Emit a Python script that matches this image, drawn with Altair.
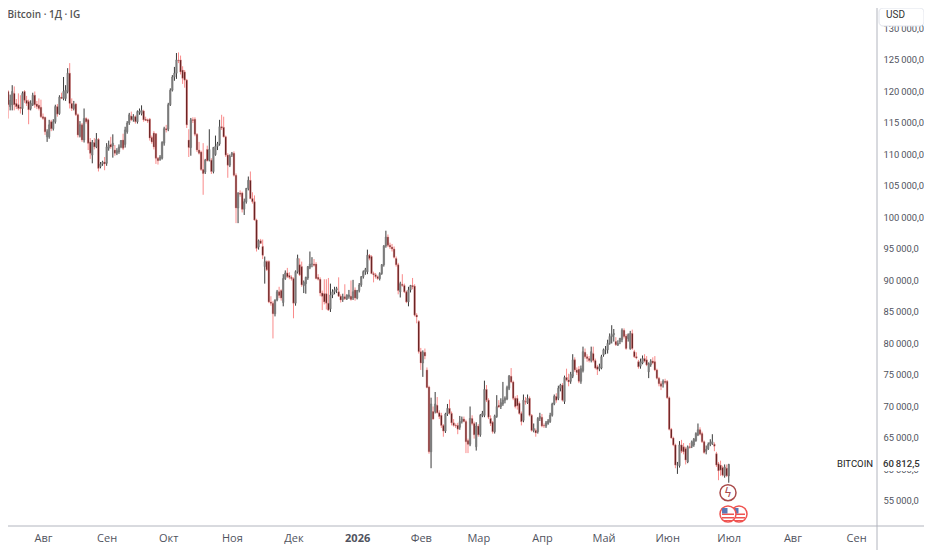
import altair as alt
import pandas as pd

# Candles: (open, high, low, close), thousands of USD, one list per calendar month
jul_2025 = [(116.0,119.0,115.0,118.6),(117.9,118.5,116.8,117.4),(117.4,120.0,117.0,119.4),(117.9,123.1,117.5,120.0),(120.0,120.2,115.7,117.9),(117.6,119.5,117.0,118.6),(117.9,121.0,117.0,120.0),(119.7,120.8,117.0,117.9),(118.1,118.8,117.2,117.6),(117.9,119.7,117.0,117.3),(117.5,119.4,116.5,117.3),(117.3,120.0,116.3,119.7),(120.0,120.2,118.2,118.6),(118.6,119.3,117.7,118.1),(118.4,118.7,114.8,117.1),(117.3,118.6,117.0,118.1),(117.9,119.8,117.7,119.4),(119.4,120.0,117.4,117.9),(118.0,118.5,117.2,117.6),(117.8,118.9,117.0,117.3),(117.5,118.7,115.8,116.0)]
aug_2025 = [(116.0,116.5,115.5,115.7),(115.9,116.0,113.1,113.6),(112.8,114.0,112.0,113.6),(112.8,115.5,112.5,114.7),(115.2,115.5,113.7,114.1),(114.1,115.6,113.8,115.2),(115.2,117.9,114.9,117.6),(117.6,118.0,116.0,116.4),(116.5,119.4,116.3,119.1),(119.1,119.8,118.8,118.9),(118.9,122.3,118.6,120.0),(118.9,121.0,118.5,120.2),(120.0,123.7,119.7,122.9),(122.9,124.5,117.3,118.1),(118.1,118.9,116.9,117.3),(117.3,118.5,117.0,117.9),(118.0,118.2,116.1,116.3),(116.3,116.5,112.7,113.1),(112.9,115.3,112.7,114.7),(114.7,115.0,112.0,112.3),(112.3,117.3,111.9,115.7),(115.7,115.9,114.9,115.2),(115.5,115.7,110.7,111.8),(112.0,112.6,109.3,110.2),(109.9,112.3,108.6,111.9),(111.9,112.6,110.8,111.2),(111.2,113.4,111.0,112.4),(112.4,112.6,107.3,107.8),(108.1,108.8,107.8,108.5),(108.5,109.0,108.2,108.8),(108.8,109.6,107.5,108.5)]
sep_2025 = [(108.6,111.8,108.2,111.2),(111.0,112.2,110.6,111.5),(111.6,112.8,110.9,111.2),(111.4,113.2,109.5,111.8),(110.7,111.5,109.8,110.2),(110.2,111.0,109.9,110.6),(110.4,111.6,110.1,111.2),(111.2,112.3,111.0,112.2),(112.3,113.3,110.7,111.0),(111.6,114.4,111.1,113.9),(113.6,115.3,113.3,115.0),(115.0,116.6,114.7,116.3),(116.1,116.8,115.3,115.5),(115.5,116.4,115.2,116.0),(116.0,116.2,114.9,115.2),(115.2,117.0,114.9,116.8),(116.7,117.3,116.3,116.9),(116.5,117.8,116.2,117.0),(116.9,117.1,115.2,115.5),(115.6,116.0,115.3,115.4),(115.5,115.7,115.0,115.3),(115.6,115.8,112.2,112.6),(112.7,113.0,111.7,112.0),(113.4,113.7,110.8,111.2),(113.3,113.4,108.5,109.4),(109.4,109.6,108.4,109.0),(109.2,109.9,109.0,109.6),(109.4,112.1,109.2,111.9),(111.8,114.4,111.4,114.1),(114.1,114.7,113.5,113.9)]
oct_2025 = [(114.0,118.2,113.7,117.9),(117.9,120.5,117.7,120.2),(120.2,122.6,120.0,122.3),(122.3,123.9,121.7,122.9),(122.9,126.1,122.0,125.0),(125.0,126.2,124.5,124.9),(125.0,125.7,122.7,123.1),(123.4,124.0,121.2,122.1),(123.1,123.4,120.6,121.8),(121.8,122.0,114.2,114.7),(112.3,114.0,109.6,111.1),(111.1,115.8,109.8,115.5),(115.5,115.9,115.0,115.4),(115.6,115.9,112.9,113.2),(113.2,113.4,110.4,110.7),(110.7,112.0,110.0,110.2),(110.4,110.6,107.4,107.6),(107.6,111.8,103.6,107.0),(107.2,109.3,106.9,109.1),(110.8,111.4,108.9,109.0),(109.1,114.0,108.9,110.8),(109.1,109.4,106.9,107.3),(107.3,111.2,107.0,111.1),(110.0,113.0,109.8,111.3),(111.3,112.0,110.7,111.7),(111.7,115.5,111.4,114.4),(114.4,116.3,113.9,114.2),(114.3,116.0,112.7,112.8),(112.8,113.0,109.6,109.9),(109.9,110.2,106.3,108.3),(108.3,110.0,108.0,109.7)]
nov_2025 = [(109.9,110.4,109.6,110.2),(110.2,110.5,106.5,106.7),(106.7,107.0,99.1,101.5),(101.5,104.0,99.1,103.9),(103.9,104.3,103.3,103.7),(103.9,104.1,100.8,101.3),(101.3,103.0,100.4,102.5),(102.5,104.7,102.2,104.6),(104.6,106.5,104.3,105.9),(105.9,107.3,102.9,103.0),(103.0,104.0,102.2,102.5),(102.5,103.5,99.5,99.6),(99.6,99.8,94.6,95.1),(95.3,96.5,94.9,96.3),(96.3,96.6,95.8,95.9),(95.4,96.5,93.4,94.0),(92.2,93.8,89.5,93.0),(93.0,93.2,91.5,91.7),(93.0,93.2,86.4,86.6),(86.6,87.5,86.0,86.4),(86.4,86.7,80.8,84.7),(84.7,87.0,84.3,86.9),(86.9,88.5,86.7,88.2),(88.2,89.0,87.2,87.6),(88.4,88.6,86.8,87.2),(86.5,91.0,85.9,90.3),(90.3,91.6,90.1,91.2),(91.2,92.0,90.4,90.6),(90.8,91.3,90.2,90.5),(90.5,90.8,90.0,90.3)]
dec_2025 = [(90.3,90.5,84.0,86.4),(86.4,91.6,86.0,91.4),(91.4,94.1,91.1,93.5),(92.5,93.5,90.7,90.9),(92.2,93.0,89.0,89.3),(89.2,90.0,88.0,89.7),(89.5,90.6,87.9,90.5),(90.4,92.3,90.1,92.2),(92.1,94.6,91.8,92.6),(92.6,93.7,92.1,92.6),(92.6,93.4,92.2,92.4),(92.6,92.9,90.2,90.3),(90.5,91.0,90.0,90.2),(90.2,90.5,87.5,88.0),(88.0,88.4,85.3,87.5),(87.9,90.2,86.2,86.6),(87.9,90.2,85.4,86.4),(86.4,90.4,85.2,85.3),(85.5,89.5,85.0,87.7),(87.7,88.6,87.2,88.2),(88.2,89.0,87.8,88.5),(88.5,89.0,88.0,88.7),(88.2,90.5,87.4,87.5),(87.5,87.8,86.5,86.9),(87.0,87.9,86.6,87.4),(87.4,89.4,86.9,87.1),(87.1,87.8,86.9,87.7),(87.4,88.5,87.1,87.7),(87.5,90.0,86.8,87.0),(87.2,90.1,86.9,88.2),(88.5,88.9,86.8,87.2)]
jan_2026 = [(87.2,88.5,87.0,88.4),(88.4,89.6,88.1,89.3),(89.3,90.7,89.0,90.6),(90.6,91.6,90.3,91.4),(91.4,92.0,90.9,91.7),(91.4,94.9,91.0,94.0),(94.0,94.2,93.2,93.5),(93.8,94.0,91.0,91.1),(91.1,91.4,89.7,90.9),(90.9,91.2,90.3,90.6),(90.6,90.8,90.1,90.3),(90.3,91.3,90.0,91.1),(91.1,92.6,90.9,92.5),(92.5,95.6,92.2,95.5),(95.5,97.9,95.2,96.9),(96.9,97.3,95.3,95.6),(95.6,96.0,95.0,95.3),(95.3,95.8,94.6,95.0),(95.0,95.4,93.5,93.7),(93.5,93.8,92.2,92.5),(92.5,92.8,87.8,88.4),(88.2,89.8,87.3,89.5),(89.4,91.0,89.0,89.2),(89.2,89.5,88.0,88.2),(88.2,88.4,86.4,86.6),(86.6,89.0,85.9,88.5),(88.5,89.3,88.1,89.2),(89.2,90.4,88.6,89.0),(89.1,89.4,84.3,84.5),(84.5,84.8,83.2,84.2),(83.5,83.7,78.4,78.7)]
feb_2026 = [(78.7,79.3,75.8,76.9),(76.9,78.9,74.7,78.6),(78.6,79.2,77.5,78.0),(75.8,76.2,72.9,73.0),(73.1,73.3,62.5,62.8),(62.8,71.4,60.2,70.4),(69.2,70.0,67.9,68.0),(69.2,72.3,68.9,70.4),(70.2,71.5,68.9,69.0),(69.0,69.4,68.0,68.4),(68.6,69.0,66.6,67.0),(67.0,67.2,65.2,66.1),(66.1,69.0,65.8,68.8),(68.8,70.4,68.5,69.7),(69.7,71.1,68.7,68.9),(68.9,69.2,67.0,67.4),(67.4,68.0,66.8,67.0),(67.0,67.3,66.6,66.9),(67.0,67.4,65.6,66.4),(66.7,68.5,66.3,67.6),(67.6,68.4,67.3,68.0),(68.0,68.4,67.5,67.6),(67.6,67.9,62.6,64.4),(64.6,64.9,62.6,64.0),(64.0,70.0,63.7,68.1),(68.1,68.6,67.0,67.3),(67.3,67.6,64.9,65.5),(63.6,67.5,63.0,66.9)]
mar_2026 = [(66.9,67.2,65.2,65.5),(65.5,68.8,65.2,68.6),(68.6,69.3,68.3,68.9),(68.6,74.1,68.3,72.7),(72.7,73.4,70.7,71.0),(71.0,71.3,68.0,68.3),(68.1,68.6,66.9,67.3),(67.5,67.7,65.7,66.0),(66.0,68.7,65.7,68.5),(68.4,71.8,68.2,70.0),(70.2,71.0,69.8,69.9),(70.0,71.3,69.6,70.6),(70.4,73.9,70.1,71.0),(71.0,71.6,70.5,71.3),(71.2,73.3,71.0,73.0),(72.9,75.0,72.6,74.8),(74.8,76.1,73.7,73.9),(73.9,74.1,71.0,71.3),(71.3,71.6,69.7,70.0),(71.3,71.8,69.5,70.1),(70.5,70.8,68.7,68.9),(68.9,69.2,67.0,67.6),(67.8,71.9,67.5,71.0),(70.8,71.5,70.3,70.7),(70.6,71.9,70.4,71.3),(71.3,71.6,68.4,68.6),(68.6,68.8,66.0,66.2),(66.2,67.3,65.9,66.5),(66.2,66.5,65.2,65.8),(66.0,68.3,65.7,68.1),(68.1,69.0,67.7,68.4)]
apr_2026 = [(68.3,68.8,66.7,66.9),(67.0,67.3,66.6,66.9),(66.9,67.7,66.6,67.4),(67.3,68.0,67.1,67.7),(67.6,69.0,67.4,68.6),(68.6,70.6,68.4,70.4),(70.4,71.9,70.2,71.6),(71.6,72.1,70.6,71.0),(71.3,73.3,71.0,72.9),(72.9,73.6,72.4,73.4),(73.4,73.7,70.8,71.0),(70.8,74.9,70.4,74.6),(74.6,76.0,74.0,74.2),(74.2,75.2,73.2,73.9),(74.0,75.5,73.6,75.1),(74.8,78.3,74.5,77.4),(77.4,77.8,75.5,75.8),(75.8,76.2,75.0,75.4),(75.9,76.4,73.7,74.0),(74.0,76.5,73.6,76.0),(75.7,79.5,75.4,78.7),(78.6,79.2,77.6,77.9),(77.9,78.3,77.1,77.6),(77.6,78.0,77.0,77.3),(77.3,79.5,77.0,78.7),(78.4,79.5,77.0,77.3),(77.3,77.6,75.9,76.1),(76.3,76.6,75.0,75.9),(76.0,76.8,75.6,76.3),(76.1,78.2,75.9,77.9)]
may_2026 = [(78.2,79.2,77.9,79.0),(79.0,79.6,78.3,79.0),(79.0,80.6,78.4,80.0),(80.0,81.6,79.8,81.1),(81.1,82.9,80.0,81.4),(81.4,82.3,80.3,81.6),(80.3,81.0,79.6,79.8),(79.8,80.5,79.6,80.0),(80.3,80.9,79.9,80.8),(80.6,82.4,80.2,82.1),(82.1,82.4,80.8,81.1),(81.2,81.5,79.0,79.2),(80.8,81.6,80.3,81.4),(79.2,82.0,79.0,81.6),(81.6,82.2,79.0,79.2),(78.7,79.0,77.7,77.9),(77.9,78.6,77.5,77.7),(77.1,77.4,76.0,76.3),(76.4,77.6,76.0,77.1),(76.9,78.1,76.7,77.6),(77.6,78.3,77.0,77.2),(77.4,78.0,76.4,76.6),(75.5,77.0,74.5,76.8),(76.6,77.5,76.3,77.2),(77.2,77.8,76.7,76.9),(77.1,78.0,75.6,75.8),(75.8,76.0,74.3,74.5),(74.5,74.7,73.2,73.6),(73.6,74.0,72.6,73.2),(73.6,74.3,73.0,74.0),(74.0,74.4,73.5,73.8)]
jun_2026 = [(74.0,74.2,71.2,71.4),(71.4,71.6,66.2,66.4),(66.4,66.6,64.9,65.0),(65.0,65.2,63.7,63.9),(63.9,64.1,60.2,60.7),(60.7,61.2,59.3,60.7),(60.6,64.5,60.3,63.9),(63.9,64.7,62.6,62.9),(63.6,64.2,62.4,62.8),(63.3,63.6,60.8,61.5),(61.2,63.8,61.0,63.6),(63.6,64.2,63.3,63.5),(63.7,64.6,63.4,64.4),(63.9,65.0,63.6,64.8),(64.6,65.9,64.4,65.7),(65.5,67.3,65.3,66.3),(66.3,66.7,65.4,65.6),(65.7,66.0,64.2,64.4),(64.4,64.6,62.5,62.7),(62.9,63.8,62.4,63.2),(63.3,64.3,63.1,64.0),(64.0,64.8,63.7,64.3),(64.1,65.6,63.9,64.4),(64.0,64.3,62.9,63.7),(62.5,62.8,60.4,60.7),(60.9,61.2,58.3,59.8),(60.7,61.4,59.0,59.9),(60.3,60.6,58.9,59.1),(59.0,60.8,58.7,60.4),(60.2,60.8,58.8,59.0)]
jul_2026 = [(59.0,60.9,57.9,60.8)]

# First day index of each list (days counted from 1 Aug 2025)
months = [(-21, jul_2025), (0, aug_2025), (31, sep_2025), (61, oct_2025), (92, nov_2025), (122, dec_2025),
          (153, jan_2026), (184, feb_2026), (212, mar_2026), (243, apr_2026), (273, may_2026), (304, jun_2026), (334, jul_2026)]

month_days = [0, 31, 61, 92, 122, 153, 184, 212, 243, 273, 304, 334, 365, 396]
month_names = ["Авг", "Сен", "Окт", "Ноя", "Дек", "2026", "Фев", "Мар", "Апр", "Май", "Июн", "Июл", "Авг", "Сен"]
price_ticks = [55000, 60000, 65000, 70000, 75000, 80000, 85000, 90000, 95000, 100000, 105000, 110000, 115000, 120000, 125000, 130000]

title_text = "Bitcoin · 1Д · IG"
symbol_text = "BITCOIN"
last_price_text = "60\u2009812,5"

rows = []
for start, candles in months:
    for i, (o, h, l, c) in enumerate(candles):
        rows.append({"day": start + i, "open": o * 1000, "high": h * 1000, "low": l * 1000, "close": c * 1000,
                     "dir": "up" if c >= o else "down"})
df = pd.DataFrame(rows)

x_scale = alt.Scale(domain=[-17.05, 406.2], nice=False, zero=False, padding=0)
y_scale = alt.Scale(domain=[51030, 133250], nice=False, zero=False)

label_color = "#50535e"
font = "Open Sans"
narrow = "Roboto"

month_expr = "[" + ",".join(f"'{m}'" for m in month_names) + "][indexof([" + ",".join(map(str, month_days)) + "], datum.value)]"
x_axis = alt.Axis(values=month_days, labelExpr=month_expr, title=None, grid=False, domain=False, ticks=False,
                  labelFont=font, labelFontSize=11, labelColor=label_color, labelPadding=6, labelOverlap=False,
                  labelFlush=False, labelBound=False,
                  labelFontWeight={"condition": {"test": "datum.value === 153", "value": "bold"}, "value": "normal"})
y_axis = alt.Axis(values=price_ticks, orient="right", title=None, grid=False, domain=False, ticks=False,
                  labelExpr="replace(format(datum.value, ','), ',', '\u2009') + ',0'",
                  labelFont=narrow, labelFontSize=9.4, labelColor=label_color, labelPadding=6, labelOverlap=False,
                  labelFlush=False, labelBound=False, labelAlign="left")

color_wick = alt.Color("dir:N", legend=None, scale=alt.Scale(domain=["up", "down"], range=["#3a3a3a", "#f98a8a"]))
color_body = alt.Color("dir:N", legend=None, scale=alt.Scale(domain=["up", "down"], range=["#808080", "#4a0808"]))
stroke_body = alt.Stroke("dir:N", legend=None, scale=alt.Scale(domain=["up", "down"], range=["#707070", "#d98080"]))

base = alt.Chart(df)
wicks = base.mark_rule(strokeWidth=1, clip=True).encode(
    x=alt.X("day:Q", scale=x_scale, axis=x_axis),
    y=alt.Y("low:Q", scale=y_scale, axis=y_axis),
    y2="high:Q",
    color=color_wick,
)
bodies = base.mark_bar(size=1.5, clip=True, strokeWidth=0.5).encode(
    x=alt.X("day:Q", scale=x_scale, axis=x_axis),
    y=alt.Y("open:Q", scale=y_scale, axis=y_axis),
    y2="close:Q",
    color=color_body,
    stroke=stroke_body,
)

one = alt.Data(values=[{"a": 1}])


def rule(x, y, x2=None, y2=None, color="#b2b5be", w=1):
    enc = {"x": alt.value(x), "y": alt.value(y)}
    if x2 is not None:
        enc["x2"] = alt.value(x2)
    if y2 is not None:
        enc["y2"] = alt.value(y2)
    return alt.Chart(one).mark_rule(stroke=color, strokeWidth=w).encode(**enc)


def box(x, x2, y, y2, fill, **kw):
    return alt.Chart(one).mark_rect(fill=fill, **kw).encode(
        x=alt.value(x), x2=alt.value(x2), y=alt.value(y), y2=alt.value(y2))


def label(text, x, y, color, size=11, align="left", weight="normal", family=font):
    return alt.Chart(one).mark_text(text=text, font=family, fontSize=size, color=color, align=align,
                                    baseline="middle", fontWeight=weight).encode(x=alt.value(x), y=alt.value(y))


def ring(x, y, color, fill="white"):
    return alt.Chart(one).mark_point(shape="circle", size=256, stroke=color, strokeWidth=1.5, fill=fill,
                                     filled=False, opacity=1, fillOpacity=1).encode(x=alt.value(x), y=alt.value(y))


def flag(x, y):
    return [
        ring(x, y, "#ef5350"),
        box(x - 6, x + 6, y + 3, y + 4.5, "#ef5350"),
        box(x - 6, x + 6, y - 0.5, y + 1, "#ef5350"),
        box(x - 4, x + 4, y + 6, y + 7, "#ef5350"),
        box(x - 6, x - 0.5, y - 6, y - 0.5, "#5b78b5"),
    ]


layers = [wicks, bodies]
layers += [rule(869, 0, y2=542), rule(0, 518, x2=916)]
layers += [box(871, 916, 0, 18, "white", stroke="#e0e3eb", strokeWidth=1, cornerRadius=4),
           label("USD", 878, 7, "#333333", 10, family=narrow)]
layers += [box(870, 916, 449, 463, "white"),
           label(last_price_text, 875, 456, "#333333", 9.6, family=narrow, weight=500),
           label(symbol_text, 865, 456, "#222222", 9.5, align="right", family=narrow)]
layers += [label(title_text, -0.5, 7, "#555555", 10, weight=600)]
layers += [ring(720, 484.7, "#a94a4a"),
           label("ϟ", 720, 484.7, "#a94a4a", 12, align="center", family="DejaVu Sans")]
layers += flag(731, 506) + flag(720, 506)

chart = alt.layer(*layers).resolve_scale(color="independent", stroke="independent").properties(
    width=869, height=518,
    padding={"left": 0, "top": 0, "right": 47, "bottom": 24},
    autosize=alt.AutoSizeParams(type="none"),
    background="white",
).configure_view(stroke=None)

chart.save("out.html", embed_options={"renderer": "svg", "actions": False})
